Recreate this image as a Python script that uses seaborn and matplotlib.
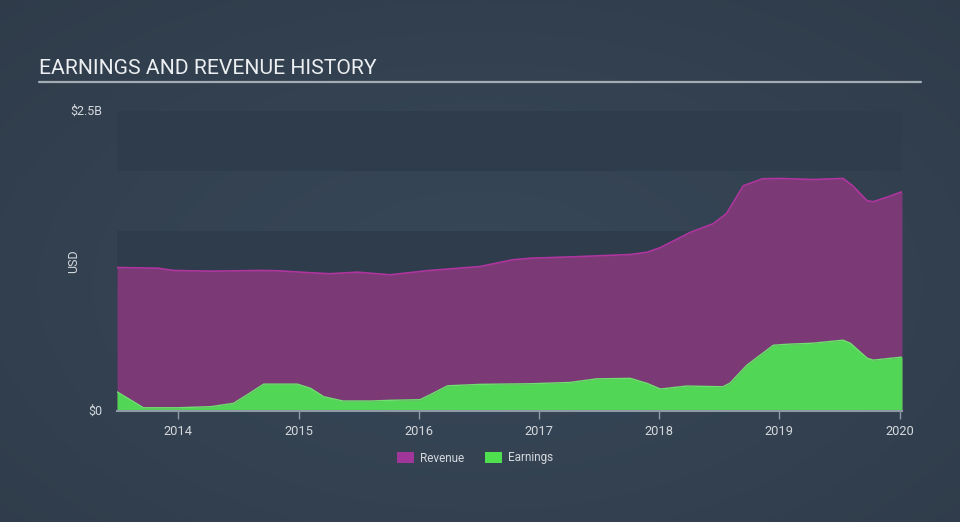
import numpy as np
import pandas as pd
import matplotlib
matplotlib.use("Agg")
import matplotlib.pyplot as plt
import seaborn as sns
from matplotlib.patches import Patch

# ---- data ----
rev_dates = [2013.49, 2013.83, 2013.96, 2014.27, 2014.68, 2014.82, 2015.10, 2015.26,
             2015.49, 2015.76, 2016.09, 2016.51, 2016.78, 2016.93, 2017.34, 2017.76,
             2017.90, 2018.01, 2018.26, 2018.45, 2018.56, 2018.70, 2018.86, 2019.00,
             2019.28, 2019.53, 2019.61, 2019.73, 2019.78, 2019.89, 2020.02]
revenue = [1.196, 1.190, 1.171, 1.165, 1.171, 1.169, 1.152, 1.144,
           1.157, 1.135, 1.171, 1.204, 1.260, 1.273, 1.287, 1.304,
           1.323, 1.362, 1.489, 1.561, 1.645, 1.877, 1.935, 1.938,
           1.929, 1.938, 1.877, 1.752, 1.744, 1.780, 1.827]  # $B

earn_dates = [2013.49, 2013.71, 2013.99, 2014.27, 2014.46, 2014.57, 2014.71, 2014.99,
              2015.10, 2015.21, 2015.37, 2015.60, 2015.76, 2016.01, 2016.09, 2016.24,
              2016.51, 2016.93, 2017.26, 2017.48, 2017.76, 2017.90, 2018.01, 2018.23,
              2018.53, 2018.59, 2018.73, 2018.95, 2019.06, 2019.28, 2019.53, 2019.59,
              2019.73, 2019.78, 2020.02]
earnings = [0.160, 0.027, 0.027, 0.036, 0.064, 0.133, 0.224, 0.224,
            0.189, 0.119, 0.083, 0.083, 0.089, 0.094, 0.133, 0.210,
            0.222, 0.227, 0.238, 0.268, 0.272, 0.230, 0.183, 0.208,
            0.202, 0.233, 0.382, 0.548, 0.556, 0.565, 0.590, 0.565,
            0.440, 0.424, 0.449]  # $B

year_ticks = [2014, 2015, 2016, 2017, 2018, 2019, 2020]
y_ticks = [0, 2.5e9]
y_tick_labels = ["$0", "$2.5B"]
series_names = ["Revenue", "Earnings"]

rev_df = pd.DataFrame({"date": rev_dates, "value": np.array(revenue) * 1e9})
earn_df = pd.DataFrame({"date": earn_dates, "value": np.array(earnings) * 1e9})

# ---- style ----
sns.set_theme(style="dark")
plt.rcParams["font.family"] = ["Roboto", "DejaVu Sans"]

TEXT = "#d5d9de"
REV_FILL = "#7b3a76"
REV_LINE = "#b0359f"
EARN_FILL = "#52d655"
EARN_LINE = "#6fe06f"
DARK_BAND = "#2e3c4b"

fig = plt.figure(figsize=(9.6, 5.22), dpi=100)

# background radial gradient
bg = fig.add_axes([0, 0, 1, 1], zorder=-10)
yy, xx = np.mgrid[0:1:200j, 0:1:360j]
r = np.sqrt(((xx - 0.5) / 0.75) ** 2 + ((yy - 0.45) / 0.8) ** 2)
r = np.clip(r, 0, 1)
c_in = np.array([56, 72, 89]) / 255.0
c_out = np.array([47, 59, 73]) / 255.0
img = c_in[None, None, :] * (1 - r[..., None]) + c_out[None, None, :] * r[..., None]
bg.imshow(img, aspect="auto", extent=[0, 1, 0, 1], origin="lower")
bg.set_axis_off()

ax = fig.add_axes([117 / 960, 111 / 522, 785 / 960, 300 / 522])
ax.set_facecolor("none")

# horizontal bands
for lo, hi in [(0, 0.5e9), (1.0e9, 1.5e9), (2.0e9, 2.5e9)]:
    ax.axhspan(lo, hi, color=DARK_BAND, lw=0, zorder=0)

ax.fill_between(rev_df["date"], 0, rev_df["value"], color=REV_FILL, lw=0, zorder=2)
sns.lineplot(data=rev_df, x="date", y="value", ax=ax, color=REV_LINE, lw=1.2, zorder=3)
ax.fill_between(earn_df["date"], 0, earn_df["value"], color=EARN_FILL, lw=0, zorder=4)
sns.lineplot(data=earn_df, x="date", y="value", ax=ax, color=EARN_LINE, lw=1.0, zorder=5)

ax.set_xlim(rev_dates[0], 2020.02)
ax.set_ylim(0, 2.5e9)
ax.set_xticks(year_ticks)
ax.set_xticklabels([str(y) for y in year_ticks], color=TEXT, fontsize=9.3)
ax.set_yticks(y_ticks)
ax.set_yticklabels(y_tick_labels, color=TEXT, fontsize=9)
ax.set_xlabel("")
ax.set_ylabel("USD", color=TEXT, fontsize=9)
ax.yaxis.set_label_coords(-0.047, 0.5)

for s in ["top", "right", "left"]:
    ax.spines[s].set_visible(False)
ax.spines["bottom"].set_visible(True)
ax.spines["bottom"].set_color("#8d9aa6")
ax.spines["bottom"].set_linewidth(1.5)
ax.spines["bottom"].set_zorder(6)
ax.tick_params(axis="x", length=6, width=1, color="#8d9aa6", pad=4, bottom=True)
ax.tick_params(axis="y", length=0, pad=10.5)
ax.get_yticklabels()[1].set_va("center")
ax.get_yticklabels()[0].set_va("center")
ax.grid(False)

# title + underline
fig.text(39 / 960, 1 - 69 / 522, "EARNINGS AND REVENUE HISTORY", color="#eceff1",
         fontsize=15.2, va="center", ha="left")
fig.add_artist(plt.Line2D([39 / 960, 921 / 960], [1 - 82 / 522, 1 - 82 / 522],
                          color="#a3abb3", lw=1.6))

# legend
handles = [Patch(facecolor="#a0359a", edgecolor="none", label=series_names[0]),
           Patch(facecolor="#4fe04f", edgecolor="none", label=series_names[1])]
leg = fig.legend(handles=handles, loc="center", bbox_to_anchor=(475 / 960, 1 - 458 / 522),
                 ncol=2, frameon=False, fontsize=8.5, handlelength=1.4, handleheight=1.1,
                 columnspacing=1.8, handletextpad=0.5)
for t in leg.get_texts():
    t.set_color(TEXT)

fig.savefig("out.png", dpi=100)
